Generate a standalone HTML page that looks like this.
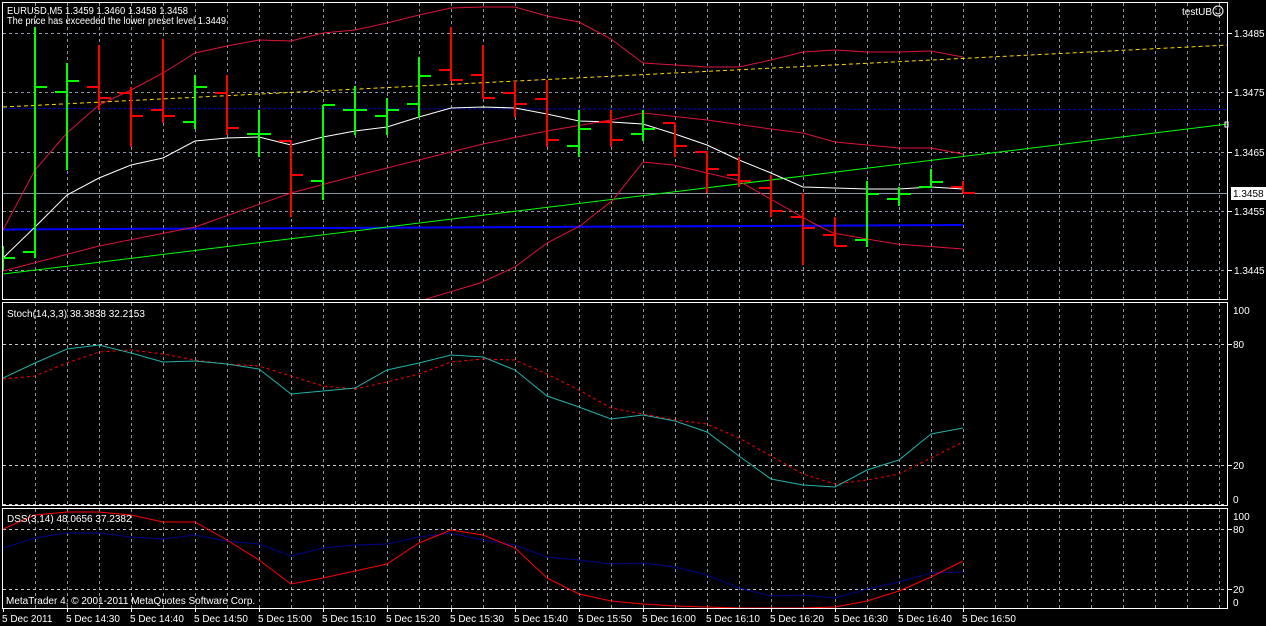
<!DOCTYPE html>
<html><head><meta charset="utf-8"><style>
html,body{margin:0;padding:0;background:#000;width:1266px;height:626px;overflow:hidden}
svg{display:block}
text{font-family:"Liberation Sans",sans-serif;font-size:10px;fill:#fff}
</style></head><body>
<svg width="1266" height="626" viewBox="0 0 1266 626" xmlns="http://www.w3.org/2000/svg">
<defs>
<clipPath id="cm"><rect x="3" y="3" width="1225" height="296"/></clipPath>
<clipPath id="cs"><rect x="3" y="303" width="1225" height="202"/></clipPath>
<clipPath id="cd"><rect x="3" y="509" width="1225" height="99"/></clipPath>
</defs>
<rect width="1266" height="626" fill="#000"/>
<g stroke="#8a96a6" stroke-width="1" stroke-dasharray="3,3">
<path d="M35.5 3V299M67.5 3V299M99.5 3V299M131.5 3V299M163.5 3V299M195.5 3V299M227.5 3V299M259.5 3V299M291.5 3V299M323.5 3V299M355.5 3V299M387.5 3V299M419.5 3V299M451.5 3V299M483.5 3V299M515.5 3V299M547.5 3V299M579.5 3V299M611.5 3V299M643.5 3V299M675.5 3V299M707.5 3V299M739.5 3V299M771.5 3V299M803.5 3V299M835.5 3V299M867.5 3V299M899.5 3V299M931.5 3V299M963.5 3V299M995.5 3V299M1027.5 3V299M1059.5 3V299M1091.5 3V299M1123.5 3V299M1155.5 3V299M1187.5 3V299M1219.5 3V299"/>
<path d="M35.5 303V505M67.5 303V505M99.5 303V505M131.5 303V505M163.5 303V505M195.5 303V505M227.5 303V505M259.5 303V505M291.5 303V505M323.5 303V505M355.5 303V505M387.5 303V505M419.5 303V505M451.5 303V505M483.5 303V505M515.5 303V505M547.5 303V505M579.5 303V505M611.5 303V505M643.5 303V505M675.5 303V505M707.5 303V505M739.5 303V505M771.5 303V505M803.5 303V505M835.5 303V505M867.5 303V505M899.5 303V505M931.5 303V505M963.5 303V505M995.5 303V505M1027.5 303V505M1059.5 303V505M1091.5 303V505M1123.5 303V505M1155.5 303V505M1187.5 303V505M1219.5 303V505"/>
<path d="M35.5 509V608M67.5 509V608M99.5 509V608M131.5 509V608M163.5 509V608M195.5 509V608M227.5 509V608M259.5 509V608M291.5 509V608M323.5 509V608M355.5 509V608M387.5 509V608M419.5 509V608M451.5 509V608M483.5 509V608M515.5 509V608M547.5 509V608M579.5 509V608M611.5 509V608M643.5 509V608M675.5 509V608M707.5 509V608M739.5 509V608M771.5 509V608M803.5 509V608M835.5 509V608M867.5 509V608M899.5 509V608M931.5 509V608M963.5 509V608M995.5 509V608M1027.5 509V608M1059.5 509V608M1091.5 509V608M1123.5 509V608M1155.5 509V608M1187.5 509V608M1219.5 509V608"/>
<path d="M3 33.5H1228M3 92.5H1228M3 152.5H1228M3 211.5H1228M3 270.5H1228"/>
</g>
<g stroke="#c8c8c8" stroke-width="1" stroke-dasharray="3,3">
<path d="M3 344.5H1228M3 465.5H1228M3 504.5H1228M3 529.5H1228M3 589.5H1228"/>
</g>
<g clip-path="url(#cm)" fill="none">
<line x1="3" y1="193.5" x2="1228" y2="193.5" stroke="#8a96a6"/>
<line x1="3" y1="107" x2="1228" y2="45" stroke="#ffd700" stroke-dasharray="4,3"/>
<line x1="3" y1="108.5" x2="1228" y2="109.5" stroke="#0000cd" stroke-dasharray="3,2"/>
<line x1="3" y1="229.5" x2="963" y2="225" stroke="#0000ff" stroke-width="2"/>
<line x1="3" y1="274" x2="1228" y2="124" stroke="#00ff00"/>
<polyline stroke="#dc143c" points="3,230 35,170 67,133 99,105 131,90 163,73 195,53 227,46 259,40 291,41 323,33 355,30 387,23 419,15 451,8 483,7 515,7 547,16 579,22 611,39 643,63 675,65 707,67 739,67 771,60 803,52 835,50 867,52 899,52 931,51 963,57"/>
<polyline stroke="#dc143c" points="3,271 99,246 195,227 291,193 355,176 451,152 483,144 547,131 611,120 643,113 707,120 771,129 803,133 835,142 899,148 931,148 963,154"/>
<polyline stroke="#dc143c" points="423,300 480,283 515,267 547,243 580,226 613,200 643,162 673,165 737,180 813,223 833,233 867,239 897,244 963,249"/>
<polyline stroke="#fff" points="3,258 35,227 67,195 99,178 131,165 163,158 195,141 227,138 259,137 291,145 323,137 355,131 387,127 419,117 451,108 483,107 515,108 547,114 579,121 611,122 643,124 675,134 707,145 739,160 771,173 803,187 835,188 867,189 899,189 931,187 963,189"/>
<path stroke="#00ff00" stroke-width="2" d="M3 246V270M-9 262H3M3 258H15M35 27V258M23 252H35M35 87H47M67 63V170M55 92H67M67 81H79M195 75V129M183 122H195M195 87H207M259 110V157M247 134H259M259 134H271M323 105V200M311 181H323M323 105H335M355 86V135M343 110H355M355 110H367M387 98V135M375 116H387M387 110H399M419 57V118M407 104H419M419 76H431M579 110V157M567 146H579M579 129H591M643 110V141M631 134H643M643 129H655M867 181V247M855 240H867M867 194H879M899 187V206M887 199H899M899 194H911M931 169V188M919 187H931M931 182H943"/>
<path stroke="#ff0000" stroke-width="2" d="M99 45V110M87 87H99M99 98H111M131 87V147M119 93H131M131 116H143M163 39V123M151 110H163M163 116H175M227 75V135M215 93H227M227 128H239M291 140V217M279 141H291M291 175H303M451 27V81M439 70H451M451 80H463M483 45V98M471 75H483M483 98H495M515 81V117M503 93H515M515 104H527M547 80V147M535 99H547M547 140H559M611 110V147M599 122H611M611 140H623M675 123V157M663 123H675M675 146H687M707 151V193M695 152H707M707 169H719M739 157V187M727 175H739M739 181H751M771 175V217M759 188H771M771 211H783M803 193V265M791 217H803M803 228H815M835 217V246M823 235H835M835 246H847M963 181V193M951 187H963M963 193H975"/>
</g>
<g clip-path="url(#cs)" fill="none">
<polyline stroke="#ff0000" stroke-dasharray="3,3" points="3,379 35,376 67,363 99,352 131,350 163,354 195,360 227,364 259,366 291,376 323,386 355,389 387,382 419,374 451,362 483,359 515,360 547,374 579,390 611,408 643,414 675,420 707,424 739,438 771,456 803,474 835,484 867,480 899,474 931,458 963,442"/>
<polyline stroke="#20b2aa" points="3,378 35,363 67,349 99,345 131,353 163,362 195,361 227,364 259,369 291,394 323,391 355,388 387,370 419,363 451,355 483,357 515,370 547,396 579,407 611,419 643,415 675,421 707,432 739,456 771,479 803,485 835,487 867,470 899,460 931,434 963,428"/>
</g>
<g clip-path="url(#cd)" fill="none">
<polyline stroke="#00008b" points="3,548 35,538 67,533 99,533 131,537 163,539 195,535 227,541 259,544 291,556 323,548 355,545 387,544 419,537 451,533 483,540 515,545 547,557 579,560 611,564 643,563 675,567 707,575 739,588 771,596 803,595 835,598 867,589 899,582 931,573 963,572"/>
<polyline stroke="#ff0000" points="3,529 35,515 67,512 99,512 131,515 163,522 195,522 227,540 259,560 291,584 323,578 355,571 387,564 419,543 451,530 483,535 515,548 547,578 579,594 611,601 643,604 675,606 707,607 739,608 771,608 803,608 835,607 867,601 899,591 931,577 963,561"/>
</g>
<g fill="none" stroke="#fff" stroke-width="1">
<rect x="2.5" y="2.5" width="1225" height="297"/>
<rect x="2.5" y="302.5" width="1225" height="203"/>
<rect x="2.5" y="508.5" width="1225" height="100"/>
</g>
<g stroke="#fff"><path d="M1228 33.5H1232M1228 92.5H1232M1228 152.5H1232M1228 211.5H1232M1228 270.5H1232M1228 344.5H1232M1228 465.5H1232M1228 529.5H1232M1228 589.5H1232"/>
<path d="M3.5 609V612M67.5 609V612M131.5 609V612M195.5 609V612M259.5 609V612M323.5 609V612M387.5 609V612M451.5 609V612M515.5 609V612M579.5 609V612M643.5 609V612M707.5 609V612M771.5 609V612M835.5 609V612M899.5 609V612M963.5 609V612"/></g>
<rect x="1225" y="122" width="3" height="5" fill="none" stroke="#fff"/>
<g>
<text x="1234" y="37">1.3485</text>
<text x="1234" y="96">1.3475</text>
<text x="1234" y="156">1.3465</text>
<text x="1234" y="215">1.3455</text>
<text x="1234" y="274">1.3445</text>
<rect x="1231" y="187" width="35" height="13" fill="#fff"/>
<text x="1233" y="197" style="fill:#000">1.3458</text>
<text x="1233" y="314">100</text>
<text x="1233" y="348">80</text>
<text x="1233" y="469">20</text>
<text x="1233" y="503">0</text>
<text x="1233" y="520">100</text>
<text x="1233" y="533">80</text>
<text x="1233" y="593">20</text>
<text x="1233" y="606">0</text>
</g>
<text x="7" y="14" textLength="181" lengthAdjust="spacingAndGlyphs">EURUSD,M5  1.3459 1.3460 1.3458 1.3458</text>
<text x="7" y="24" textLength="219" lengthAdjust="spacingAndGlyphs">The price has exceeded the lower preset level 1.3449</text>
<text x="1182" y="15">testUB</text>
<circle cx="1218" cy="11" r="5" fill="none" stroke="#fff"/>
<path d="M1215.5 12.5Q1218 15.5 1220.5 12.5" fill="none" stroke="#fff"/>
<rect x="1215.5" y="8.5" width="1" height="1" fill="#fff"/><rect x="1219.5" y="8.5" width="1" height="1" fill="#fff"/>
<text x="7" y="317">Stoch(14,3,3) 38.3838 32.2153</text>
<text x="7" y="522">DSS(3,14) 48.0656 37.2382</text>
<text x="6" y="604">MetaTrader 4, © 2001-2011 MetaQuotes Software Corp.</text>
<g>
<text x="2" y="622">5 Dec 2011</text>
<text x="66" y="622">5 Dec 14:30</text>
<text x="130" y="622">5 Dec 14:40</text>
<text x="194" y="622">5 Dec 14:50</text>
<text x="258" y="622">5 Dec 15:00</text>
<text x="322" y="622">5 Dec 15:10</text>
<text x="386" y="622">5 Dec 15:20</text>
<text x="450" y="622">5 Dec 15:30</text>
<text x="514" y="622">5 Dec 15:40</text>
<text x="578" y="622">5 Dec 15:50</text>
<text x="642" y="622">5 Dec 16:00</text>
<text x="706" y="622">5 Dec 16:10</text>
<text x="770" y="622">5 Dec 16:20</text>
<text x="834" y="622">5 Dec 16:30</text>
<text x="898" y="622">5 Dec 16:40</text>
<text x="962" y="622">5 Dec 16:50</text>
</g>
</svg>
</body></html>
